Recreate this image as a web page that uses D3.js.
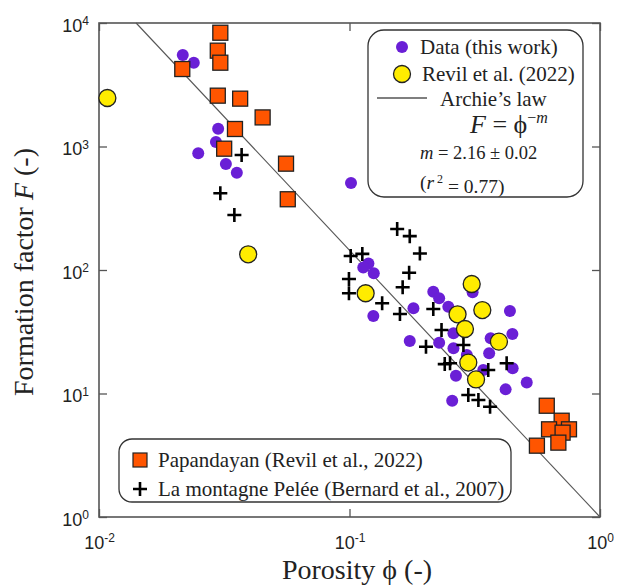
<!DOCTYPE html>
<html>
<head>
<meta charset="utf-8">
<script src="https://cdn.jsdelivr.net/npm/d3@7"></script>
<style>
  body { margin: 0; background: #fff; }
  svg text { fill: #222; }
  .serif { font-family: "Liberation Serif", "Times New Roman", serif; }
  .sans { font-family: "Liberation Sans", Arial, sans-serif; }
</style>
</head>
<body>
<svg id="chart"></svg>
<script>
// *********************************************
// DATA  (porosity phi, formation factor F)
// *********************************************
var thisWork = [
  [0.0216, 5510], [0.0239, 4770], [0.0299, 1390], [0.0293, 1087], [0.0249, 881],
  [0.0321, 721], [0.0355, 613], [0.1014, 506], [0.119, 113], [0.1135, 105],
  [0.125, 94], [0.1245, 42.4], [0.18, 49], [0.216, 66.7], [0.228, 59],
  [0.248, 50.5], [0.174, 26.6], [0.228, 25.8], [0.26, 30.7], [0.26, 23.2],
  [0.266, 13.9], [0.257, 8.74], [0.31, 66], [0.437, 46.6], [0.447, 30.3],
  [0.366, 28], [0.361, 21.2], [0.448, 16.0], [0.342, 15.5], [0.51, 12.3],
  [0.42, 10.8], [0.294, 20.5]
];
var revil2022 = [
  [0.0108, 2470], [0.0394, 134], [0.116, 64.8], [0.3075, 77], [0.339, 47.4],
  [0.27, 43.8], [0.289, 33.3], [0.395, 26.3], [0.298, 17.8], [0.32, 13.0]
];
var papandayan = [
  [0.0305, 8340], [0.0298, 5970], [0.0305, 4770], [0.0215, 4240], [0.0298, 2580],
  [0.0366, 2440], [0.045, 1720], [0.0349, 1386], [0.0316, 960], [0.0558, 726],
  [0.0567, 374], [0.613, 7.96], [0.703, 6.02], [0.626, 5.13], [0.752, 5.13],
  [0.709, 4.82], [0.56, 3.78], [0.682, 4.0]
];
var pelee = [
  [0.0371, 853], [0.0305, 418], [0.0347, 279], [0.155, 215], [0.174, 188],
  [0.191, 136], [0.1011, 130], [0.1125, 135], [0.173, 95], [0.0995, 84.6],
  [0.163, 72.4], [0.0995, 64.8], [0.135, 53.8], [0.159, 44], [0.216, 48.3],
  [0.233, 32.7], [0.202, 23.9], [0.24, 17.3], [0.252, 17.6], [0.285, 24.7],
  [0.298, 9.72], [0.327, 8.86], [0.364, 7.82], [0.358, 15.5], [0.424, 17.6]
];
var archieM = 2.16;
var xTicks = [0.01, 0.1, 1];
var xTickExp = ["-2", "-1", "0"];
var yTicks = [1, 10, 100, 1000, 10000];
var yTickExp = ["0", "1", "2", "3", "4"];

// *********************************************
// SETUP
// *********************************************
var width = 617, height = 587;
var margin = {left: 99, top: 23, right: 17, bottom: 70};
var pw = width - margin.left - margin.right,
    ph = height - margin.top - margin.bottom;

var svg = d3.select("#chart").attr("width", width).attr("height", height);
var g = svg.append("g").attr("transform", "translate(" + margin.left + "," + margin.top + ")");

var x = d3.scaleLog().domain([0.01, 1]).range([0, pw]);
var y = d3.scaleLog().domain([1, 10000]).range([ph, 0]);

var purple = "#6a1fd6", orange = "#ff5500", yellow = "#ffec00";

// superscript tick labels
function expLabels(sel, exps) {
  sel.selectAll(".tick text").each(function(d, i) {
    var t = d3.select(this).text("");
    t.append("tspan").text("10");
    t.append("tspan").attr("dy", "-0.55em").style("font-size", "12px").text(exps[i]);
  });
}

// axes: ticks inside, mirrored on all sides
var tk = 8;
var gx = g.append("g").attr("transform", "translate(0," + ph + ")")
    .call(d3.axisBottom(x).tickValues(xTicks).tickSizeInner(-tk).tickSizeOuter(0).tickPadding(19));
var gy = g.append("g")
    .call(d3.axisLeft(y).tickValues(yTicks).tickSizeInner(-tk).tickSizeOuter(0).tickPadding(10));
var gx2 = g.append("g").call(d3.axisTop(x).tickValues(xTicks).tickSizeInner(-tk).tickSizeOuter(0).tickFormat(""));
var gy2 = g.append("g").attr("transform", "translate(" + pw + ",0)")
    .call(d3.axisRight(y).tickValues(yTicks).tickSizeInner(-tk).tickSizeOuter(0).tickFormat(""));
[gx, gy, gx2, gy2].forEach(function(a) {
  a.attr("font-family", null).attr("font-size", null);
  a.select(".domain").remove();
  a.selectAll(".tick line").attr("stroke", "#555").attr("stroke-width", 1.3);
  a.selectAll(".tick text").attr("class", "sans").style("font-size", "18px").attr("fill", "#222");
});
expLabels(gx, xTickExp);
expLabels(gy, yTickExp);
gy.selectAll(".tick text").attr("dy", "0.45em");

g.append("rect").attr("width", pw).attr("height", ph)
  .attr("fill", "none").attr("stroke", "#555").attr("stroke-width", 1.6);

// Archie's law line
var phiMin = Math.pow(10000, -1 / archieM);
var archie = [phiMin, 1].map(function(p) { return [p, Math.pow(p, -archieM)]; });
g.append("path")
  .attr("d", d3.line().x(d => x(d[0])).y(d => y(d[1]))(archie))
  .attr("stroke", "#555").attr("stroke-width", 1.1).attr("fill", "none");

// markers
g.selectAll(".dw").data(thisWork).enter().append("circle")
  .attr("cx", d => x(d[0])).attr("cy", d => y(d[1])).attr("r", 6).attr("fill", purple);

g.selectAll(".pl").data(pelee).enter().append("path")
  .attr("transform", d => "translate(" + x(d[0]) + "," + y(d[1]) + ")")
  .attr("d", "M-7,0H7M0,-7V7").attr("stroke", "#000").attr("stroke-width", 2.6);

g.selectAll(".rv").data(revil2022).enter().append("circle")
  .attr("cx", d => x(d[0])).attr("cy", d => y(d[1])).attr("r", 8.5)
  .attr("fill", yellow).attr("stroke", "#222").attr("stroke-width", 1.3);

g.selectAll(".pp").data(papandayan).enter().append("rect")
  .attr("x", d => x(d[0]) - 7.5).attr("y", d => y(d[1]) - 7.5)
  .attr("width", 15).attr("height", 15)
  .attr("fill", orange).attr("stroke", "#222").attr("stroke-width", 1.3);

// *********************************************
// LEGENDS
// *********************************************
function txt(parent, xx, yy, size) {
  return parent.append("text").attr("class", "serif").attr("x", xx).attr("y", yy)
    .style("font-size", size + "px");
}

var l1 = svg.append("g");
l1.append("rect").attr("x", 368).attr("y", 30).attr("width", 215).attr("height", 167)
  .attr("rx", 16).attr("fill", "#fff").attr("stroke", "#333").attr("stroke-width", 1.3);
l1.append("circle").attr("cx", 402).attr("cy", 47).attr("r", 6).attr("fill", purple);
txt(l1, 420, 54, 21).text("Data (this work)");
l1.append("circle").attr("cx", 402).attr("cy", 74).attr("r", 8.5)
  .attr("fill", yellow).attr("stroke", "#222").attr("stroke-width", 1.3);
txt(l1, 422, 81, 21).text("Revil et al. (2022)");
l1.append("line").attr("x1", 377).attr("x2", 427).attr("y1", 98).attr("y2", 98)
  .attr("stroke", "#555").attr("stroke-width", 1.3);
txt(l1, 440, 106, 21).text("Archie\u2019s law");
var fm = txt(l1, 470, 133, 26);
fm.append("tspan").style("font-style", "italic").text("F");
fm.append("tspan").text(" = \u03d5");
fm.append("tspan").attr("dy", "-0.6em").style("font-size", "16px").text("\u2212");
fm.append("tspan").style("font-size", "16px").style("font-style", "italic").text("m");
var mt = txt(l1, 420, 159, 18.5);
mt.append("tspan").style("font-style", "italic").text("m");
mt.append("tspan").text(" = 2.16 \u00b1 0.02");
var rt = txt(l1, 420, 189, 19.5);
rt.append("tspan").text("(");
rt.append("tspan").style("font-style", "italic").text("r");
rt.append("tspan").attr("dy", "-0.5em").style("font-size", "12px").text(" 2");
rt.append("tspan").attr("dy", "0.5em").text(" = 0.77)");

var l2 = svg.append("g");
l2.append("rect").attr("x", 119).attr("y", 439).attr("width", 392).attr("height", 63)
  .attr("rx", 13).attr("fill", "#fff").attr("stroke", "#333").attr("stroke-width", 1.3);
l2.append("rect").attr("x", 133).attr("y", 453).attr("width", 14).attr("height", 14)
  .attr("fill", orange).attr("stroke", "#222").attr("stroke-width", 1.2);
txt(l2, 158, 467, 21).text("Papandayan (Revil et al., 2022)");
l2.append("path").attr("transform", "translate(140,489)")
  .attr("d", "M-7,0H7M0,-7V7").attr("stroke", "#000").attr("stroke-width", 2.6);
txt(l2, 158, 496, 21).text("La montagne Pel\u00e9e (Bernard et al., 2007)");

// *********************************************
// AXIS TITLES
// *********************************************
txt(svg, 357, 579, 28).attr("text-anchor", "middle")
  .text("Porosity \u03d5 (-)");
var yl = svg.append("text").attr("class", "serif")
  .attr("transform", "translate(33," + (margin.top + ph / 2 + 2) + ")rotate(-90)")
  .attr("text-anchor", "middle").style("font-size", "28px");
yl.append("tspan").text("Formation factor ");
yl.append("tspan").style("font-style", "italic").text("F");
yl.append("tspan").text(" (-)");
</script>
</body>
</html>
